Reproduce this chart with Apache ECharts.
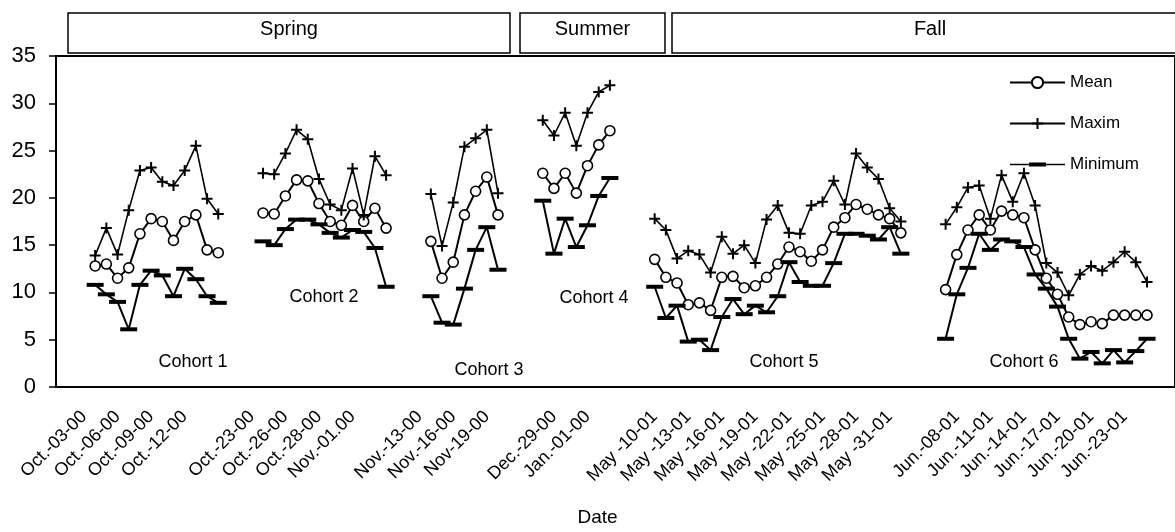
<!DOCTYPE html>
<html>
<head>
<meta charset="utf-8">
<script src="https://cdn.jsdelivr.net/npm/echarts@6/dist/echarts.min.js"></script>
<style>
  html, body { margin: 0; padding: 0; background: #fff; }
  #chart { width: 1175px; height: 532px; }
</style>
</head>
<body>
<div id="chart"></div>
<script>
// x-axis tick labels, one for every third day slot ('' = unlabeled slot)
const tickLabels = [
  "Oct.-03-00", "Oct.-06-00", "Oct.-09-00", "Oct.-12-00", "",
  "Oct.-23-00", "Oct.-26-00", "Oct.-28-00", "Nov.-01.00", "",
  "Nov.-13-00", "Nov.-16-00", "Nov-19-00", "",
  "Dec.-29-00", "Jan.-01-00", "",
  "May -10-01", "May -13-01", "May -16-01", "May -19-01",
  "May -22-01", "May -25-01", "May -28-01", "May -31-01", "",
  "Jun.-08-01", "Jun.-11-01", "Jun.-14-01", "Jun.-17-01",
  "Jun.-20-01", "Jun.-23-01", ""
];
const slotCount = 100;

// first day slot of each cohort
const cohortStart = [3, 18, 33, 43, 53, 79];
const cohortNames = ["Cohort 1", "Cohort 2", "Cohort 3", "Cohort 4", "Cohort 5", "Cohort 6"];

const meanValues = [
  [12.8, 13.0, 11.5, 12.6, 16.2, 17.8, 17.5, 15.5, 17.5, 18.2, 14.5, 14.2],
  [18.4, 18.3, 20.2, 21.9, 21.8, 19.4, 17.5, 17.1, 19.2, 17.5, 18.9, 16.8],
  [15.4, 11.5, 13.2, 18.2, 20.7, 22.2, 18.2],
  [22.6, 21.0, 22.6, 20.5, 23.4, 25.6, 27.1],
  [13.5, 11.6, 11.0, 8.7, 8.9, 8.1, 11.6, 11.7, 10.5, 10.7, 11.6, 13.0,
   14.8, 14.3, 13.3, 14.5, 16.9, 17.9, 19.3, 18.8, 18.2, 17.8, 16.3],
  [10.3, 14.0, 16.6, 18.2, 16.6, 18.6, 18.2, 17.9, 14.5, 11.5, 9.8, 7.4,
   6.6, 6.9, 6.7, 7.6, 7.6, 7.6, 7.6]
];

const maxValues = [
  [13.9, 16.8, 14.0, 18.7, 22.9, 23.2, 21.7, 21.3, 22.9, 25.5, 19.9, 18.3],
  [22.6, 22.5, 24.7, 27.2, 26.2, 22.0, 19.3, 18.7, 23.1, 18.2, 24.4, 22.4],
  [20.4, 14.9, 19.5, 25.4, 26.3, 27.2, 20.5],
  [28.2, 26.6, 29.0, 25.5, 29.0, 31.2, 31.9],
  [17.8, 16.6, 13.6, 14.4, 14.0, 12.1, 15.9, 14.1, 15.0, 13.1, 17.7, 19.2,
   16.3, 16.2, 19.2, 19.6, 21.8, 19.3, 24.7, 23.2, 22.0, 18.9, 17.5],
  [17.2, 19.0, 21.1, 21.3, 17.8, 22.4, 19.6, 22.6, 19.2, 13.1, 12.1, 9.7,
   11.9, 12.8, 12.3, 13.2, 14.3, 13.2, 11.1]
];

const minValues = [
  [10.8, 9.8, 9.0, 6.1, 10.8, 12.3, 11.8, 9.6, 12.5, 11.4, 9.6, 8.9],
  [15.4, 15.0, 16.7, 17.7, 17.7, 17.2, 16.3, 15.8, 16.6, 16.4, 14.7, 10.6],
  [9.6, 6.8, 6.6, 10.4, 14.5, 16.9, 12.4],
  [19.7, 14.1, 17.8, 14.8, 17.1, 20.2, 22.1],
  [10.6, 7.3, 8.6, 4.8, 5.0, 3.9, 7.4, 9.3, 7.7, 8.6, 7.9, 9.6,
   13.2, 11.1, 10.7, 10.7, 13.1, 16.2, 16.2, 16.0, 15.6, 16.9, 14.1],
  [5.1, 9.8, 12.6, 16.2, 14.5, 15.6, 15.4, 14.8, 11.9, 10.4, 8.5, 5.1,
   3.0, 3.7, 2.5, 3.9, 2.6, 3.8, 5.1]
];

// spread the cohort values over the day slots, gaps stay empty
const toSlots = (groups) => {
  const out = new Array(slotCount).fill(null);
  groups.forEach((vals, c) => {
    vals.forEach((v, j) => { out[cohortStart[c] + j] = v; });
  });
  return out;
};

const categories = [];
for (let k = 0; k < slotCount; k++) {
  const lbl = k % 3 === 2 ? tickLabels[(k - 2) / 3] : "";
  categories.push(lbl ? lbl : "#" + k);
}

const FONT = "Liberation Sans, Arial, sans-serif";
const plusPath = "path://M4.5,0H6.5V4.5H11V6.5H6.5V11H4.5V6.5H0V4.5H4.5Z";
const dashLegend = "path://M0,5.2H19V4H36V5.2H55V6.8H36V8H19V6.8H0Z";

const chart = echarts.init(document.getElementById("chart"));

const headerBox = (x, w, text) => [
  {
    type: "rect",
    shape: { x: x, y: 13, width: w, height: 40 },
    style: { fill: "#fff", stroke: "#000", lineWidth: 1.5 }
  },
  {
    type: "text",
    style: {
      text: text, x: x + w / 2, y: 29, align: "center", verticalAlign: "middle",
      font: "20px " + FONT, fill: "#000"
    }
  }
];

// cohort label positions (pixels)
const cohortLabelPos = [[193, 362], [324, 297], [489, 370], [594, 298], [784, 362], [1024, 362]];
const cohortLabels = cohortNames.map((name, i) => ({
  type: "text",
  style: {
    text: name, x: cohortLabelPos[i][0], y: cohortLabelPos[i][1],
    align: "center", verticalAlign: "middle", font: "18px " + FONT, fill: "#000"
  }
}));

const option = {
  animation: false,
  backgroundColor: "#fff",
  grid: {
    left: 56, top: 56, width: 1129, bottom: 128,
    show: true, borderColor: "#000", borderWidth: 2, backgroundColor: "transparent"
  },
  legend: {
    orient: "vertical",
    left: 1004,
    top: 69,
    itemWidth: 55,
    itemHeight: 14,
    itemGap: 24,
    textStyle: { fontFamily: FONT, fontSize: 17, color: "#000", lineHeight: 14 },
    data: [
      { name: "Mean" },
      { name: "Maxim" },
      { name: "Minimum", icon: dashLegend }
    ]
  },
  xAxis: {
    type: "category",
    data: categories,
    boundaryGap: true,
    name: "Date",
    nameLocation: "middle",
    nameGap: 121,
    nameTextStyle: { fontFamily: FONT, fontSize: 19, color: "#000", padding: [0, 36, 0, 0] },
    axisLine: { lineStyle: { color: "#000", width: 2 } },
    axisTick: { interval: 0, length: 6, lineStyle: { color: "#000", width: 1.5 } },
    axisLabel: {
      interval: (idx) => idx % 3 === 2,
      formatter: (v) => (v.charAt(0) === "#" ? "" : v),
      rotate: 45,
      margin: 27,
      fontFamily: FONT,
      fontSize: 18,
      color: "#000"
    },
    splitLine: { show: false }
  },
  yAxis: {
    type: "value",
    min: 0,
    max: 35,
    interval: 5,
    axisLine: { show: true, lineStyle: { color: "#000", width: 2 } },
    axisTick: { show: true, length: 7, lineStyle: { color: "#000", width: 1.5 } },
    axisLabel: { margin: 20, fontFamily: FONT, fontSize: 22, color: "#000" },
    splitLine: { show: false }
  },
  series: [
    {
      name: "Mean",
      type: "line",
      data: toSlots(meanValues),
      connectNulls: false,
      showAllSymbol: true,
      symbol: "circle",
      symbolSize: 10,
      lineStyle: { color: "#000", width: 2 },
      itemStyle: { color: "#fff", borderColor: "#000", borderWidth: 1.6 },
      z: 2
    },
    {
      name: "Minimum",
      type: "line",
      data: toSlots(minValues),
      connectNulls: false,
      showAllSymbol: true,
      symbol: "rect",
      symbolSize: [17, 4],
      lineStyle: { color: "#000", width: 2 },
      itemStyle: { color: "#000" },
      z: 3
    },
    {
      name: "Maxim",
      type: "line",
      data: toSlots(maxValues),
      connectNulls: false,
      showAllSymbol: true,
      symbol: plusPath,
      symbolSize: 11,
      lineStyle: { color: "#000", width: 1.6 },
      itemStyle: { color: "#000" },
      z: 4
    }
  ],
  graphic: [
    ...headerBox(68, 442, "Spring"),
    ...headerBox(520, 145, "Summer"),
    ...headerBox(672, 516, "Fall"),
    ...cohortLabels
  ]
};

chart.setOption(option);
</script>
</body>
</html>
